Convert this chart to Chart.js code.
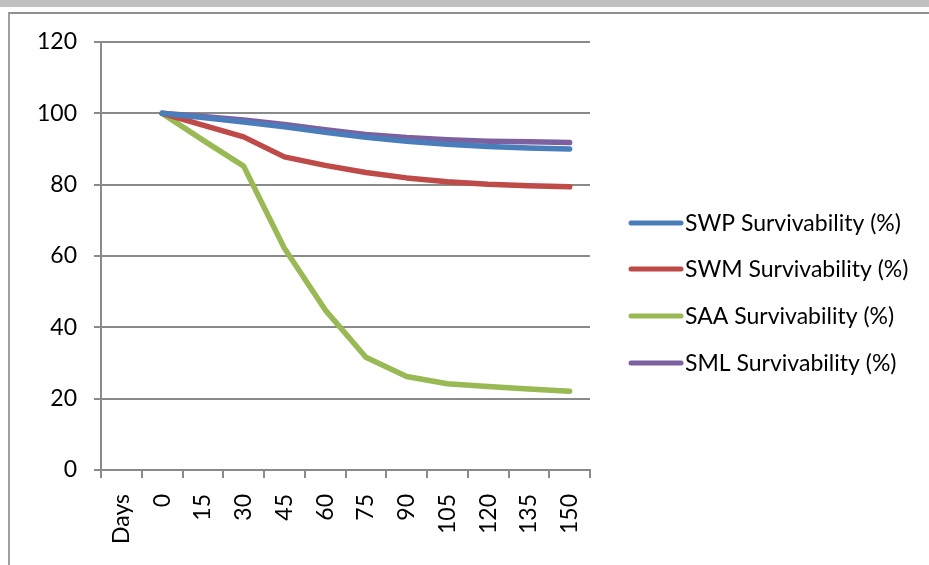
<!DOCTYPE html>
<html>
<head>
<meta charset="utf-8">
<title>Survivability</title>
<script src="https://cdn.jsdelivr.net/npm/chart.js@4.4.1/dist/chart.umd.min.js"></script>
<style>
  html, body { margin: 0; padding: 0; background: #ffffff; }
  #wrap { position: relative; width: 929px; height: 565px; overflow: hidden; }
  #strip { position: absolute; left: 0; top: 0; width: 929px; height: 7px; background: #c0c0c0; }
  #frame { position: absolute; left: 8px; top: 12px; width: 940px; height: 600px;
           border-left: 2px solid #a0a0a0; border-top: 2px solid #909090; }
  canvas { position: absolute; left: 0; top: 0; }
</style>
</head>
<body>
<div id="wrap">
  <div id="strip"></div>
  <div id="frame"></div>
  <canvas id="chartjs-0" width="929" height="565"></canvas>
</div>
<script>
// categories on the x axis (first one is the "Days" caption slot, no data)
var dayLabels = ["Days", "0", "15", "30", "45", "60", "75", "90", "105", "120", "135", "150"];

// survivability values (%) read for days 0..150
var swpValues = [100, 98.8, 97.6, 96.2, 94.7, 93.3, 92.2, 91.3, 90.7, 90.3, 90.0];
var swmValues = [100, 96.7, 93.4, 87.8, 85.4, 83.4, 81.9, 80.8, 80.1, 79.7, 79.4];
var saaValues = [100, 92.5, 85.2, 62.2, 44.9, 31.6, 26.2, 24.2, 23.4, 22.7, 22.1];
var smlValues = [100, 99.1, 98.1, 96.9, 95.4, 94.1, 93.2, 92.6, 92.2, 92.0, 91.8];

var seriesNames = ["SWP Survivability (%)", "SWM Survivability (%)", "SAA Survivability (%)", "SML Survivability (%)"];
var seriesColors = ["#4a7ebb", "#be4b48", "#98b954", "#7d60a0"];

var yTicks = [0, 20, 40, 60, 80, 100, 120];

var fontName = "Lato, 'Open Sans', sans-serif";
var gridGray = "#8a8a8a";

function makeSet(i, values) {
    // leave the "Days" slot empty
    return {
        label: seriesNames[i],
        data: [null].concat(values),
        borderColor: seriesColors[i],
        backgroundColor: seriesColors[i],
        borderWidth: 5.5,
        pointRadius: 0,
        tension: 0,
        fill: false,
        borderCapStyle: "round",
        borderJoinStyle: "round"
    };
}

// legend drawn by hand so the short line sample sits right against the text
var sideLegend = {
    id: "sideLegend",
    afterDraw: function (chart) {
        var ctx = chart.ctx;
        var rowY = [223, 269, 316, 363];
        ctx.save();
        for (var i = 0; i < chart.data.datasets.length; i++) {
            var ds = chart.data.datasets[i];
            ctx.strokeStyle = ds.borderColor;
            ctx.lineWidth = 5;
            ctx.lineCap = "round";
            ctx.beginPath();
            ctx.moveTo(631, rowY[i]);
            ctx.lineTo(681, rowY[i]);
            ctx.stroke();
            ctx.fillStyle = "#000000";
            ctx.font = "23px " + fontName;
            ctx.textAlign = "left";
            ctx.textBaseline = "middle";
            ctx.fillText(ds.label, 685, rowY[i] + 1);
        }
        ctx.restore();
    }
};

var ctx0 = document.getElementById("chartjs-0");
var myChart = new Chart(ctx0, {
    type: "line",
    data: {
        labels: dayLabels,
        datasets: [
            makeSet(0, swpValues),
            makeSet(1, swmValues),
            makeSet(2, saaValues),
            makeSet(3, smlValues)
        ]
    },
    options: {
        responsive: false,
        animation: false,
        spanGaps: false,
        layout: { padding: { left: 0, top: 42, right: 339, bottom: 0 } },
        plugins: {
            legend: { display: false },
            tooltip: { enabled: false }
        },
        scales: {
            x: {
                type: "category",
                offset: true,
                grid: {
                    offset: true,
                    drawOnChartArea: false,
                    drawTicks: true,
                    tickLength: 8,
                    color: gridGray,
                    lineWidth: 2
                },
                border: { color: gridGray, width: 2 },
                ticks: {
                    color: "#000000",
                    font: { family: fontName, size: 23 },
                    minRotation: 90,
                    maxRotation: 90,
                    padding: 16,
                    autoSkip: false
                },
                afterFit: function (scale) { scale.height = 95; }
            },
            y: {
                min: 0,
                max: 120,
                afterBuildTicks: function (scale) {
                    scale.ticks = yTicks.map(function (v) { return { value: v }; });
                },
                grid: {
                    drawTicks: true,
                    tickLength: 7,
                    color: gridGray,
                    lineWidth: 2
                },
                border: { color: gridGray, width: 2 },
                ticks: {
                    color: "#000000",
                    font: { family: fontName, size: 23 },
                    padding: 17
                },
                afterFit: function (scale) { scale.width = 101; }
            }
        }
    },
    plugins: [sideLegend]
});
</script>
</body>
</html>
